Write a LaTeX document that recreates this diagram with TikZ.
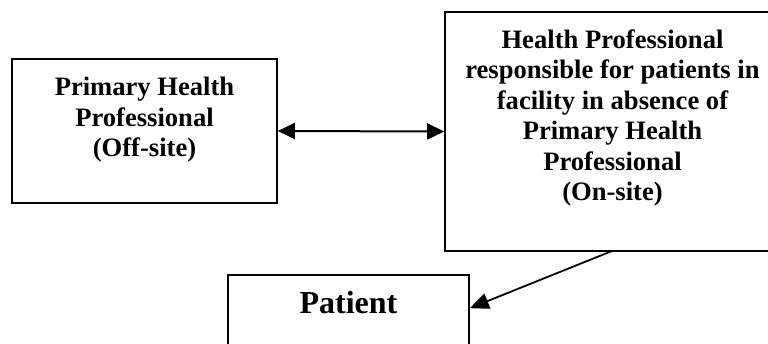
\documentclass[tikz,border=0pt]{standalone}
\usepackage{fontspec}
\setmainfont{Liberation Serif}
\usetikzlibrary{arrows.meta,calc}
\begin{document}
\begin{tikzpicture}[x=1pt,y=-1pt,
  box/.style={draw=black,line width=1.6pt,inner sep=0pt,fill=none},
  lbl/.style={align=center,inner sep=0pt,font=\fontsize{26.6}{30.5}\selectfont\bfseries},
  big/.style={inner sep=0pt,font=\fontsize{32}{36}\selectfont\bfseries},
  conn/.style={line width=1.8pt,-{Triangle[length=19pt,width=16pt]}},
  dconn/.style={line width=2pt,{Triangle[length=17pt,width=16pt]}-{Triangle[length=17pt,width=16pt]}}]
\useasboundingbox (0,0) rectangle (768,343);
\clip (0,0) rectangle (768,343);
% boxes
\node[box,minimum width=265pt,minimum height=144pt] (L) at (144.5,131) {};
\node[box,minimum width=335pt,minimum height=239pt] (R) at (612.5,131.5) {};
\node[box,minimum width=241pt,minimum height=100pt] (P) at (348.5,325) {};
% texts
\node[lbl] (Lt) at (144.5,120) {Primary Health\\Professional\\(Off-site)};
\node[lbl] (Rt) at (612.5,118) {Health Professional\\responsible for patients in\\facility in absence of\\Primary Health\\Professional\\(On-site)};
\node[big] (Pt) at (348.5,303) {Patient};
% connectors
\coordinate (Rs) at (612,251);
\coordinate (Pe) at ($(P.north east)+(0,34)$);
\draw[dconn] (L.east) -- (R.west);
\draw[conn] (Rs) -- (Pe);
\end{tikzpicture}
\end{document}
